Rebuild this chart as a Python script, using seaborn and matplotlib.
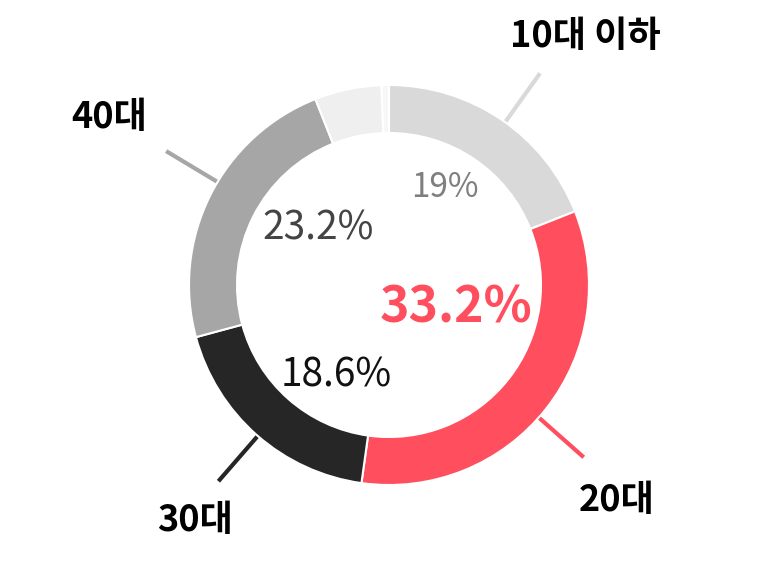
import matplotlib
matplotlib.use("Agg")
import matplotlib.pyplot as plt
import seaborn as sns
import numpy as np

groups = ["10대 이하", "20대", "30대", "40대", "50대", "기타"]
shares = [19.0, 33.2, 18.6, 23.2, 5.4, 0.6]
pct_labels = ["19%", "33.2%", "18.6%", "23.2%", "", ""]
colors = ["#d9d9d9", "#ff4f5f", "#262626", "#a6a6a6", "#efefef", "#f7f7f7"]
pct_colors = ["#7f7f7f", "#ff4f5f", "#111111", "#444444"]

sns.set_theme(style="white")
plt.rcParams["font.family"] = ["Noto Sans CJK KR", "DejaVu Sans"]

fig = plt.figure(figsize=(7.64, 5.67), dpi=100)
ax = fig.add_axes([0, 0, 1, 1])

wedges, _ = ax.pie(shares, colors=colors, startangle=90, counterclock=False,
                   radius=1.0,
                   wedgeprops=dict(width=0.24, edgecolor="white", linewidth=1.5, zorder=3))

# leader lines + group names for the four labelled groups
name_pos = {0: (0.98, 1.24), 1: (1.14, -1.08), 2: (-0.97, -1.18), 3: (-1.4, 0.84)}
pct_pos = {0: (0.28, 0.49), 1: (0.335, -0.115), 2: (-0.265, -0.45), 3: (-0.355, 0.285)}
pct_size = {0: 24, 1: 36, 2: 28, 3: 28}
line_ang = {0: 54.5, 1: -41.5, 2: -131.0, 3: 149.0}
for i in range(4):
    ang = np.deg2rad(line_ang[i])
    r0, r1 = 0.9, 1.3
    ax.plot([r0 * np.cos(ang), r1 * np.cos(ang)], [r0 * np.sin(ang), r1 * np.sin(ang)],
            color=colors[i], lw=3, solid_capstyle="butt", zorder=1)
    x, y = name_pos[i]
    ax.text(x, y, groups[i], ha="center", va="center", fontsize=26,
            fontweight="bold", color="black")
    px, py = pct_pos[i]
    ax.text(px, py, pct_labels[i], ha="center", va="center", fontsize=pct_size[i],
            fontweight="bold" if i == 1 else "normal", color=pct_colors[i])

ax.set_xlim(-389 / 200, (764 - 389) / 200)
ax.set_ylim(-282 / 200, 285 / 200)
ax.set_aspect("equal")
ax.axis("off")

fig.savefig("out.png", dpi=100, facecolor="white")
